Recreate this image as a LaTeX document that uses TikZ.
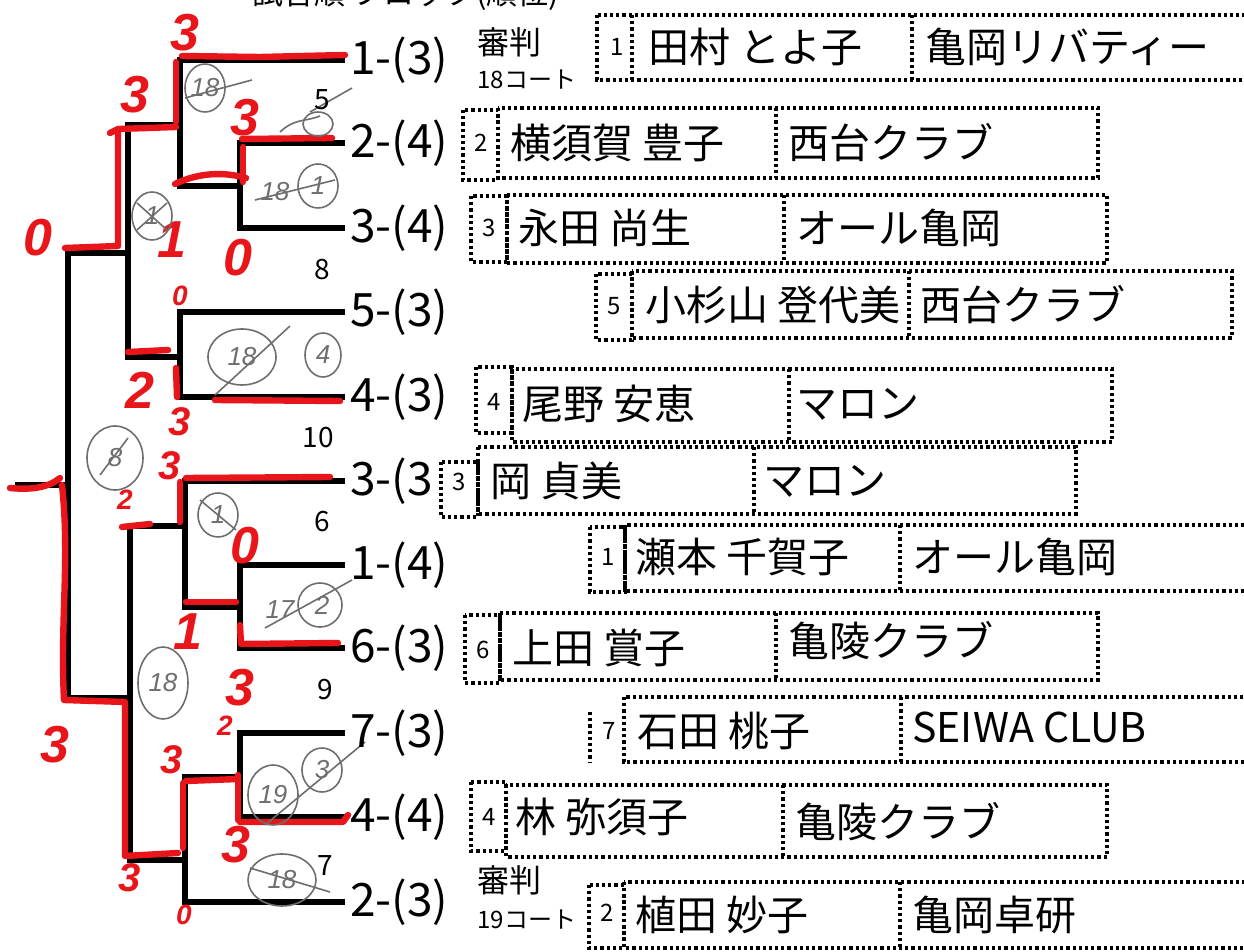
\documentclass[tikz,border=0pt]{standalone}
\usepackage{fontspec}
\setmainfont{Noto Sans CJK JP}
\newfontfamily\redfont{Liberation Sans}
\definecolor{hred}{RGB}{232,22,26}
\definecolor{hgray}{RGB}{110,110,110}
\tikzset{
  bk/.style={line width=3.4pt, line join=miter},
  rd/.style={draw=hred, line width=3.2pt, line cap=round, line join=round},
  dotl/.style={line width=1.7pt, dash pattern=on 1.6pt off 1.5pt},
  lab/.style={font=\fontsize{23}{24}\selectfont, anchor=west, inner sep=0pt},
  nm/.style={font=\fontsize{20.5}{22}\selectfont, anchor=west, inner sep=0pt},
  sd/.style={font=\fontsize{12}{13}\selectfont, inner sep=0pt},
  mid/.style={font=\fontsize{14}{15}\selectfont, inner sep=0pt},
  rnb/.style={text=hred, inner sep=0pt, font=\redfont\bfseries\itshape\fontsize{26}{26}\selectfont},
  rnm/.style={text=hred, inner sep=0pt, font=\redfont\bfseries\itshape\fontsize{20}{20}\selectfont},
  rns/.style={text=hred, inner sep=0pt, font=\redfont\bfseries\itshape\fontsize{14}{14}\selectfont},
  gr/.style={draw=hgray, line width=0.8pt},
  gt/.style={text=hgray, inner sep=0pt, font=\redfont\itshape\fontsize{13}{13}\selectfont},
}
\begin{document}
\begin{tikzpicture}[x=0.5pt,y=-0.5pt]
\useasboundingbox (0,0) rectangle (1244,952);
\clip (0,0) rectangle (1244,952);
\fill[white] (0,0) rectangle (1244,952);

% header (cut at top)
\node[anchor=base west, inner sep=0pt, font=\fontsize{15.5}{16}\selectfont] (hdr) at (252,5) {試合順 ブロック(順位)};

% ---------- bracket ----------
\draw[bk] (345,60) -| (180,186) -- (240,186);
\draw[bk] (345,143) -| (240,228) -- (345,228);
\draw[bk] (180,125) -- (128,125) -- (128,357) -- (180,357);
\draw[bk] (345,312) -| (180,397) -- (345,397);
\draw[bk] (128,253) -- (68,253) -- (68,698) -- (130,698);
\draw[bk] (68,485) -- (15,485);
\draw[bk] (345,481) -| (185,607) -- (240,607);
\draw[bk] (345,565) -| (240,648) -- (345,648);
\draw[bk] (185,526) -- (130,526) -- (130,860) -- (185,860);
\draw[bk] (345,733) -| (240,817) -- (345,817);
\draw[bk] (240,777) -- (185,777) -- (185,902) -- (345,902);

% ---------- red strokes ----------
\draw[rd] (182,56) -- (260,57) -- (345,55);
\draw[rd] (176,62) -- (176,122);
\draw[rd] (176,127) -- (118,129) -- (110,133);
\draw[rd] (118,130) -- (118,246) -- (65,248);
\draw[rd] (242,139) -- (332,138);
\draw[rd] (243,147) -- (243,182);
\draw[rd] (175,184) .. controls (200,172) and (225,172) .. (246,178);
\draw[rd] (215,400) -- (340,401);
\draw[rd] (128,352) -- (168,350);
\draw[rd] (176,368) -- (177,397);
\draw[rd] (186,478) -- (330,477);
\draw[rd] (180,482) -- (180,522);
\draw[rd] (122,527) -- (150,524);
\draw[rd] (186,602) -- (236,602);
\draw[rd] (240,625) -- (241,644) -- (338,643);
\draw[rd] (62,485) .. controls (70,560) and (60,620) .. (64,700) -- (125,702) -- (125,856) -- (178,853);
\draw[rd] (183,783) -- (183,848);
\draw[rd] (186,781) -- (238,779);
\draw[rd] (238,775) -- (238,820);
\draw[rd] (240,822) -- (343,822) -- (348,815);
\draw[rd] (10,488) .. controls (30,490) and (48,488) .. (60,478);

% ---------- red numbers ----------
\node[rnb] (r1) at (185,33) {3};
\node[rnb] (r2) at (135,95) {3};
\node[rnb] (r3) at (245,118) {3};
\node[rnb] (r4) at (38,238) {0};
\node[rnb] (r5) at (172,240) {1};
\node[rnb] (r6) at (238,258) {0};
\node[rns] (r7) at (180,296) {0};
\node[rnb] (r8) at (140,390) {2};
\node[rnm] (r9) at (180,422) {3};
\node[rnm] (r10) at (170,466) {3};
\node[rns] (r11) at (125,500) {2};
\node[rnb] (r12) at (245,546) {0};
\node[rnb] (r13) at (188,632) {1};
\node[rnb] (r14) at (240,688) {3};
\node[rnb] (r15) at (55,745) {3};
\node[rns] (r16) at (225,726) {2};
\node[rnm] (r17) at (172,760) {3};
\node[rnb] (r18) at (236,845) {3};
\node[rnm] (r19) at (130,878) {3};
\node[rns] (r20) at (184,915) {0};

% ---------- gray handwriting ----------
\draw[gr] (205,88) ellipse (20 and 24);
\node[gt] (g1) at (205,88) {18};
\draw[gr] (185,98) -- (252,80);
\draw[gr] (310,112) -- (352,88);
\draw[gr] (318,124) ellipse (15 and 12);
\draw[gr] (280,132) .. controls (295,118) and (305,122) .. (320,116);
\draw[gr] (318,186) ellipse (20 and 22);
\node[gt] (g2) at (318,186) {1};
\node[gt] (g3) at (275,192) {18};
\draw[gr] (255,200) -- (335,180);
\draw[gr] (152,216) ellipse (20 and 24);
\node[gt] (g4) at (152,216) {1};
\draw[gr] (137,203) -- (167,230);
\draw[gr] (137,230) -- (167,203);
\draw[gr] (242,357) ellipse (34 and 28);
\node[gt] (g5) at (242,357) {18};
\draw[gr] (215,395) -- (290,326);
\draw[gr] (323,355) ellipse (18 and 22);
\node[gt] (g6) at (323,355) {4};
\draw[gr] (115,458) ellipse (28 and 32);
\node[gt] (g7) at (115,458) {8};
\draw[gr] (100,475) -- (128,438);
\draw[gr] (218,515) ellipse (20 and 22);
\node[gt] (g8) at (218,515) {1};
\draw[gr] (200,500) -- (236,530);
\draw[gr] (320,605) ellipse (22 and 22);
\node[gt] (g9) at (322,605) {2};
\node[gt] (g10) at (280,610) {17};
\draw[gr] (265,628) -- (352,580);
\draw[gr] (163,683) ellipse (25 and 36);
\node[gt] (g11) at (163,683) {18};
\draw[gr] (322,770) ellipse (20 and 22);
\node[gt] (g12) at (322,770) {3};
\draw[gr] (273,795) ellipse (25 and 30);
\node[gt] (g13) at (273,795) {19};
\draw[gr] (365,742) -- (265,825);
\draw[gr] (282,880) ellipse (34 and 26);
\node[gt] (g14) at (282,880) {18};
\draw[gr] (250,868) -- (330,892);

% ---------- printed match numbers ----------
\node[mid] (m5) at (322,100) {5};
\node[mid] (m8) at (322,270) {8};
\node[mid] (m10) at (318,438) {10};
\node[mid] (m6) at (322,522) {6};
\node[mid] (m9) at (325,690) {9};
\node[mid] (m7) at (325,866) {7};

% ---------- labels ----------
\node[lab] (L1) at (350,60) {1-(3)};
\node[lab] (L2) at (350,143) {2-(4)};
\node[lab] (L3) at (350,228) {3-(4)};
\node[lab] (L4) at (350,312) {5-(3)};
\node[lab] (L5) at (350,397) {4-(3)};
\node[lab] (L6) at (350,481) {3-(3};
\node[lab] (L7) at (350,565) {1-(4)};
\node[lab] (L8) at (350,648) {6-(3)};
\node[lab] (L9) at (350,733) {7-(3)};
\node[lab] (L10) at (350,817) {4-(4)};
\node[lab] (L11) at (350,902) {2-(3)};

% referee notes
\node[anchor=west, inner sep=0pt, font=\fontsize{16}{17}\selectfont] (ref1) at (477,42) {審判};
\node[anchor=west, inner sep=0pt, font=\fontsize{12}{13}\selectfont] (crt1) at (477,80) {18コート};
\node[anchor=west, inner sep=0pt, font=\fontsize{16}{17}\selectfont] (ref2) at (477,880) {審判};
\node[anchor=west, inner sep=0pt, font=\fontsize{12}{13}\selectfont] (crt2) at (477,920) {19コート};

% ---------- entry boxes ----------
% row 1
\draw[dotl] (597,15) rectangle (1250,80);
\draw[dotl] (632,15) -- (632,80);
\draw[dotl] (912,15) -- (912,80);
\node[sd] (s1) at (617,47) {1};
\node[nm] (n1) at (648,47) {田村 とよ子};
\node[nm] (t1) at (925,47) {亀岡リバティー};
% row 2
\draw[dotl] (463,110) rectangle (498,180);
\draw[dotl] (498,108) rectangle (1098,178);
\draw[dotl] (776,108) -- (776,178);
\node[sd] (s2) at (481,143) {2};
\node[nm] (n2) at (510,143) {横須賀 豊子};
\node[nm] (t2) at (788,143) {西台クラブ};
% row 3
\draw[dotl] (471,196) rectangle (507,262);
\draw[dotl] (507,195) rectangle (1107,263);
\draw[dotl] (784,195) -- (784,263);
\node[sd] (s3) at (489,228) {3};
\node[nm] (n3) at (518,228) {永田 尚生};
\node[nm] (t3) at (796,228) {オール亀岡};
% row 4
\draw[dotl] (596,274) rectangle (632,340);
\draw[dotl] (632,271) rectangle (1232,338);
\draw[dotl] (909,271) -- (909,338);
\node[sd] (s4) at (614,306) {5};
\node[nm] (n4) at (645,305) {小杉山 登代美};
\node[nm] (t4) at (920,305) {西台クラブ};
% row 5
\draw[dotl] (476,367) rectangle (512,433);
\draw[dotl] (512,369) rectangle (1112,442);
\draw[dotl] (789,369) -- (789,442);
\node[sd] (s5) at (494,402) {4};
\node[nm] (n5) at (522,404) {尾野 安恵};
\node[nm] (t5) at (796,404) {マロン};
% row 6
\draw[dotl] (441,462) rectangle (478,517);
\draw[dotl] (478,447) rectangle (1076,514);
\draw[dotl] (754,447) -- (754,514);
\node[sd] (s6) at (459,482) {3};
\node[nm] (n6) at (490,481) {岡 貞美};
\node[nm] (t6) at (763,481) {マロン};
% row 7
\draw[dotl] (590,527) rectangle (625,592);
\draw[dotl] (625,525) rectangle (1250,591);
\draw[dotl] (900,525) -- (900,591);
\node[sd] (s7) at (608,557) {1};
\node[nm] (n7) at (635,557) {瀬本 千賀子};
\node[nm] (t7) at (912,557) {オール亀岡};
% row 8
\draw[dotl] (465,615) rectangle (500,683);
\draw[dotl] (500,613) rectangle (1098,680);
\draw[dotl] (776,613) -- (776,680);
\node[sd] (s8) at (483,650) {6};
\node[nm] (n8) at (512,648) {上田 賞子};
\node[nm] (t8) at (788,641) {亀陵クラブ};
% row 9
\draw[dotl] (590,712) -- (590,762);
\draw[dotl] (624,697) rectangle (1250,762);
\draw[dotl] (901,697) -- (901,762);
\node[sd] (s9) at (609,731) {7};
\node[nm] (n9) at (637,731) {石田 桃子};
\node[anchor=west, inner sep=0pt, font=\fontsize{20.5}{22}\selectfont] (t9) at (912,727) {SEIWA CLUB};
% row 10
\draw[dotl] (471,782) rectangle (506,851);
\draw[dotl] (506,785) rectangle (1107,857);
\draw[dotl] (783,785) -- (783,857);
\node[sd] (s10) at (489,817) {4};
\node[nm] (n10) at (515,817) {林 弥須子};
\node[nm] (t10) at (795,822) {亀陵クラブ};
% row 11
\draw[dotl] (589,885) rectangle (624,948);
\draw[dotl] (624,882) rectangle (1250,948);
\draw[dotl] (900,882) -- (900,948);
\node[sd] (s11) at (607,913) {2};
\node[nm] (n11) at (635,915) {植田 妙子};
\node[nm] (t11) at (912,915) {亀岡卓研};
\end{tikzpicture}
\end{document}
